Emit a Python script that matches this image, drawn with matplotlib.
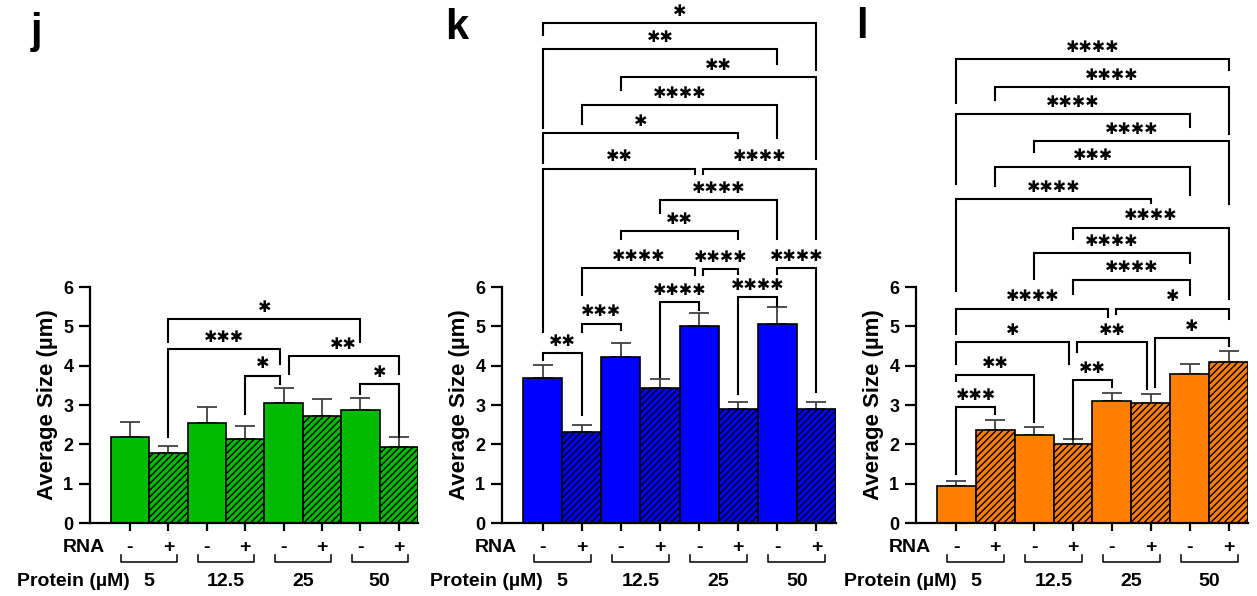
import numpy as np
import matplotlib
matplotlib.use('Agg')
import matplotlib.pyplot as plt

plt.rcParams['font.family'] = ['Liberation Sans', 'DejaVu Sans']
plt.rcParams['font.weight'] = 'bold'
plt.rcParams['hatch.linewidth'] = 1.0

# 1. Datos
rna_signs = ['-', '+', '-', '+', '-', '+', '-', '+']
protein_conc = ['5', '12.5', '25', '50']

j_means = [2.19, 1.78, 2.54, 2.14, 3.05, 2.72, 2.87, 1.92]
j_err = [0.37, 0.17, 0.40, 0.33, 0.37, 0.42, 0.30, 0.27]

k_means = [3.68, 2.32, 4.21, 3.44, 5.01, 2.89, 5.07, 2.89]
k_err = [0.34, 0.17, 0.37, 0.23, 0.32, 0.19, 0.42, 0.19]

l_means = [0.94, 2.36, 2.24, 2.00, 3.09, 3.05, 3.79, 4.10]
l_err = [0.14, 0.26, 0.20, 0.13, 0.22, 0.23, 0.24, 0.28]

# comparaciones: (barra izq, barra der, altura, fin pata izq, fin pata der, n estrellas)
j_sig = [
    (1, 6, 5.19, 4.60, 4.60, 1),
    (1, 3.9, 4.43, 2.19, 4.05, 3),
    (3, 3.9, 3.75, 2.78, 3.54, 1),
    (4.13, 7, 4.24, 3.80, 3.80, 2),
    (6, 7, 3.53, 3.29, 2.19, 1),
]

k_sig = [
    (0, 7, 12.71, 12.40, 11.51, 1),
    (0, 6, 12.04, 10.05, 11.68, 2),
    (2, 7, 11.34, 11.00, 9.26, 2),
    (1, 6, 10.62, 10.14, 9.79, 4),
    (0, 5, 9.92, 9.15, 9.79, 1),
    (0, 3.9, 9.01, 4.86, 8.87, 2),
    (4.1, 7, 9.01, 8.87, 7.23, 4),
    (3, 6, 8.22, 7.88, 7.21, 4),
    (2, 5, 7.42, 7.21, 7.21, 2),
    (1, 3.9, 6.48, 5.79, 6.30, 4),
    (4.1, 5, 6.46, 6.30, 6.34, 4),
    (6, 7, 6.48, 6.34, 3.33, 4),
    (3, 4, 5.62, 3.70, 5.42, 4),
    (5, 6, 5.75, 3.29, 5.52, 4),
    (1, 2, 5.07, 4.86, 4.90, 3),
    (0, 1, 4.32, 4.14, 2.74, 2),
]

l_sig = [
    (0, 7, 11.80, 10.67, 11.52, 4),
    (1, 7, 11.08, 10.76, 9.89, 4),
    (0, 6, 10.40, 8.62, 10.06, 4),
    (2, 7, 9.70, 9.42, 8.10, 4),
    (1, 6, 9.04, 8.56, 8.35, 3),
    (0, 5, 8.24, 5.90, 8.14, 4),
    (3, 7, 7.51, 7.21, 5.69, 4),
    (2, 6, 6.87, 6.21, 6.60, 4),
    (3, 6, 6.19, 5.83, 5.79, 4),
    (0, 3.9, 5.45, 4.81, 5.24, 4),
    (4.1, 7, 5.45, 5.31, 5.18, 1),
    (0, 2.9, 4.59, 4.04, 4.04, 1),
    (3.1, 4.9, 4.59, 4.35, 3.41, 2),
    (5.1, 7, 4.71, 3.45, 4.51, 1),
    (0, 2, 3.77, 3.62, 2.56, 2),
    (3, 4, 3.64, 2.14, 3.45, 2),
    (0, 1, 2.95, 1.25, 2.78, 3),
]


def draw_panel(ax, means, errs, color, sig):
    x = np.arange(len(means))
    bars = ax.bar(x, means, width=1.0, color=color, edgecolor='black',
                  linewidth=1.2, zorder=2)
    for b, s in zip(bars, rna_signs):
        if s == '+':
            b.set_hatch('/////')
    ax.errorbar(x, means, yerr=[np.zeros(len(errs)), errs], fmt='none',
                ecolor='#404040', elinewidth=1.3, capsize=7, capthick=1.3,
                zorder=1)

    # corchetes de significancia
    for x1, x2, y, yl, yr, n in sig:
        ax.plot([x1, x1, x2, x2], [yl, y, y, yr], color='black', lw=1.5,
                clip_on=False, solid_joinstyle='miter', zorder=3)
        ax.annotate('\u2731' * n, xy=((x1 + x2) / 2, y), xytext=(0, 3),
                    textcoords='offset points', ha='center', va='bottom',
                    fontsize=11.5, family='DejaVu Sans', fontweight='bold',
                    annotation_clip=False)

    ax.set_xlim(-1.04, 7.5)
    ax.set_ylim(0, 6)
    ax.set_yticks(range(7))
    ax.set_xticks(x)
    ax.set_xticklabels([])
    ax.spines['top'].set_visible(False)
    ax.spines['right'].set_visible(False)
    for sp in ['left', 'bottom']:
        ax.spines[sp].set_linewidth(1.6)
    ax.tick_params(axis='y', length=8, width=1.6, labelsize=13, pad=4)
    ax.tick_params(axis='x', length=6, width=1.6)

    ax.text(-42 / (ax.get_position().width * 1257), 0.5, 'Average Size (µm)',
            transform=ax.transAxes, rotation=90, ha='center', va='center',
            fontsize=16)

    # filas RNA / Protein
    for xi, s in zip(x, rna_signs):
        ax.text(xi, -0.62, s, ha='center', va='center', fontsize=14,
                clip_on=False)
    ax.text(-0.65, -0.62, 'RNA', ha='right', va='center', fontsize=14)
    for g, p in enumerate(protein_conc):
        xl, xr = 2 * g - 0.23, 2 * g + 1.23
        ax.plot([xl, xl, xr, xr], [-0.82, -0.99, -0.99, -0.82], color='black',
                lw=1.1, clip_on=False)
        ax.text(2 * g + 0.5, -1.5, p, ha='center', va='center', fontsize=14)
    ax.text(0.0, -1.5, 'Protein (µM)', ha='right', va='center', fontsize=14)


fig = plt.figure(figsize=(12.57, 5.96), dpi=100)
fig.patch.set_facecolor('white')

ax_j = fig.add_axes([90 / 1257, 73 / 596, 328 / 1257, 236 / 596])
ax_k = fig.add_axes([502 / 1257, 73 / 596, 334 / 1257, 236 / 596])
ax_l = fig.add_axes([916 / 1257, 73 / 596, 332 / 1257, 236 / 596])

draw_panel(ax_j, j_means, j_err, '#00BB00', j_sig)
draw_panel(ax_k, k_means, k_err, '#0000FF', k_sig)
draw_panel(ax_l, l_means, l_err, '#FF8000', l_sig)

fig.text(36 / 1257, 1 - 32 / 596, 'j', fontsize=30, ha='center', va='center')
fig.text(457 / 1257, 1 - 28 / 596, 'k', fontsize=30, ha='center', va='center')
fig.text(862 / 1257, 1 - 27 / 596, 'l', fontsize=30, ha='center', va='center')

fig.savefig('out.png', dpi=100)
